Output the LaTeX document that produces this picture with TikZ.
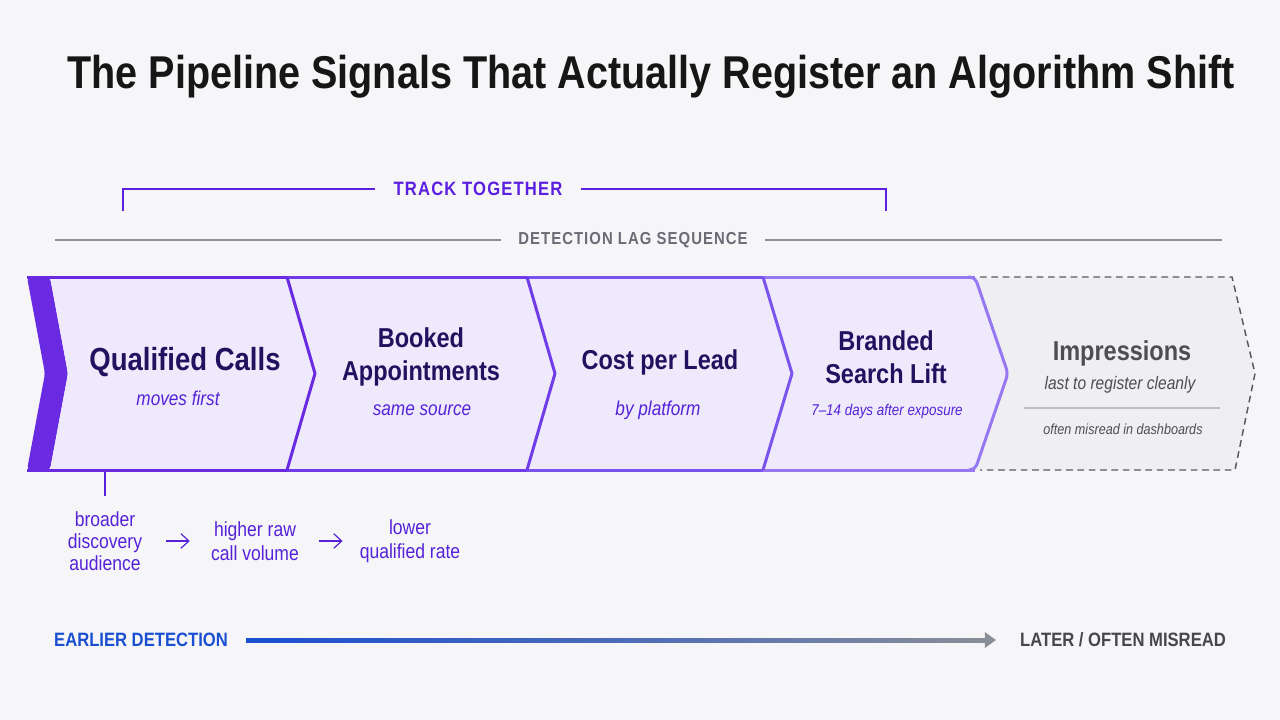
\documentclass[tikz,border=0pt]{standalone}
\usepackage{fontspec}
\setmainfont{Liberation Sans}[FakeStretch=0.86]
\usetikzlibrary{arrows.meta,positioning,calc}

\definecolor{bgcol}{HTML}{F6F6F9}
\definecolor{titlecol}{HTML}{161616}
\definecolor{violet}{HTML}{5B1FE0}
\definecolor{navy}{HTML}{22115E}
\definecolor{subpurple}{HTML}{5522D8}
\definecolor{segfill}{HTML}{EEEAFC}
\definecolor{edgeA}{HTML}{6A2AE2}
\definecolor{edgeB}{HTML}{6F3CE8}
\definecolor{edgeC}{HTML}{7B54EE}
\definecolor{edgeD}{HTML}{9877F3}
\definecolor{lagcol}{HTML}{6B6B76}
\definecolor{lagline}{HTML}{8E8E98}
\definecolor{impfill}{HTML}{EFEFF1}
\definecolor{impdash}{HTML}{5A5A5E}
\definecolor{imptext}{HTML}{4E4E52}
\definecolor{earlyblue}{HTML}{1A4FD2}
\definecolor{latergray}{HTML}{474749}
\definecolor{arrowgray}{HTML}{8A8E98}

\begin{document}
\begin{tikzpicture}[x=0.75pt, y=-0.75pt,
    title/.style={font=\fontsize{34.5}{40}\selectfont\bfseries, text=titlecol},
    caps/.style={font=\fontsize{14.5}{17}\selectfont\bfseries\addfontfeature{LetterSpace=6}},
    stagebig/.style={font=\fontsize{24}{28}\selectfont\bfseries, text=navy, align=center},
    stage/.style={font=\fontsize{20.5}{24.5}\selectfont\bfseries, text=navy, align=center},
    stagesub/.style={font=\fontsize{15}{18}\selectfont\itshape, text=subpurple},
    note/.style={font=\fontsize{15.3}{16.5}\selectfont, text=subpurple, align=center},
    edge/.style={line width=2.25pt, line join=round},
    bracket/.style={violet, line width=1.5pt},
    lagrule/.style={lagline, line width=1.1pt},
    flow/.style={-{Straight Barb[length=6pt,width=11pt]}, subpurple, line width=0.9pt}
]
\useasboundingbox (0,0) rectangle (1280,720);
\fill[bgcol] (0,0) rectangle (1280,720);

% title
\node[title] (head) at (651,77) {The Pipeline Signals That Actually Register an Algorithm Shift};

% track together bracket
\node[caps, text=violet, inner xsep=14pt] (track) at (478,189) {TRACK TOGETHER};
\coordinate (brL) at (123,211);
\coordinate (brR) at (886,211);
\draw[bracket] (track.west) -| (brL);
\draw[bracket] (track.east) -| (brR);

% detection lag rule
\node[caps, text=lagcol, font=\fontsize{13}{16}\selectfont\bfseries\addfontfeature{LetterSpace=6}, inner xsep=13pt] (lag) at (633,240) {DETECTION LAG SEQUENCE};
\coordinate (lagL) at (55,240);
\coordinate (lagR) at (1222,240);
\draw[lagrule] (lagL) -- (lag.west);
\draw[lagrule] (lag.east) -- (lagR);

% chevron band
\fill[edgeA, rounded corners=3pt] (27,277) -- (50,277) -- (68,373.5) -- (50,470) -- (27,470) -- (45,373.5) -- cycle;
\fill[segfill] (50,277) -- (287,277) -- (315,373.5) -- (287,470) -- (50,470) -- (68,373.5) -- cycle;
\fill[segfill] (287,277) -- (527,277) -- (555,373.5) -- (527,470) -- (287,470) -- (315,373.5) -- cycle;
\fill[segfill] (527,277) -- (763,277) -- (792,373.5) -- (763,470) -- (527,470) -- (555,373.5) -- cycle;
\fill[segfill] (763,277) -- (975,277) -- (1008,373.5) -- (975,470) -- (763,470) -- (792,373.5) -- cycle;
\fill[impfill] (975,277) -- (1232,277) -- (1255,373.5) -- (1235,470) -- (975,470) -- (1008,373.5) -- cycle;
\draw[impdash, line width=1.1pt, dash pattern=on 5pt off 3.5pt] (980,277) -- (1232,277) -- (1255,373.5) -- (1235,470) -- (980,470);

\draw[edge, edgeA] (27,277) -- (287,277);
\draw[edge, edgeA] (27,470) -- (287,470);
\draw[edge, edgeB] (287,277) -- (527,277);
\draw[edge, edgeB] (287,470) -- (527,470);
\draw[edge, edgeC] (527,277) -- (763,277);
\draw[edge, edgeC] (527,470) -- (763,470);
\draw[edge, edgeD] (763,277) -- (975,277);
\draw[edge, edgeD] (763,470) -- (975,470);
\draw[edge, edgeA] (287,277) -- (315,373.5) -- (287,470);
\draw[edge, edgeB] (527,277) -- (555,373.5) -- (527,470);
\draw[edge, edgeC] (763,277) -- (792,373.5) -- (763,470);
\draw[edge, edgeD, rounded corners=4pt] (968,277) -- (975,277) -- (1008,373.5) -- (975,470) -- (968,470);

% stage labels
\node[stagebig] (calls) at (185,362) {Qualified Calls};
\node[stagesub] (callsSub) at (178,398) {moves first};
\node[stage] (booked) at (421,357) {Booked\\Appointments};
\node[stagesub] (bookedSub) at (422,410) {same source};
\node[stage] (cpl) at (660,362) {Cost per Lead};
\node[stagesub] (cplSub) at (658,410) {by platform};
\node[stage] (branded) at (886,357) {Branded\\Search Lift};
\node[stagesub, font=\fontsize{11.7}{14}\selectfont\itshape] (brandedSub) at (887,411) {7–14 days after exposure};
\node[stage, text=imptext] (imp) at (1122,353) {Impressions};
\node[stagesub, text=imptext, font=\fontsize{13.6}{16}\selectfont\itshape] (impSub) at (1120,385) {last to register cleanly};
\coordinate (impRuleL) at (1024,408);
\coordinate (impRuleR) at (1220,408);
\draw[black!25, line width=0.8pt] (impRuleL) -- (impRuleR);
\node[stagesub, text=imptext, font=\fontsize{11}{13}\selectfont\itshape] (impNote) at (1123,429) {often misread in dashboards};

% qualified calls breakdown
\node[note] (broader) at (105,541) {broader\\discovery\\audience};
\node[note, font=\fontsize{15.3}{18}\selectfont] (rawvol) at (255,541) {higher raw\\call volume};
\node[note, font=\fontsize{15.3}{18}\selectfont] (lower) at (410,541) {lower\\qualified rate};
\coordinate (tickTop) at (105,472);
\draw[subpurple, line width=1.1pt] (tickTop) -- (105,496);
\draw[flow] (broader.east) ++(19,0) -- ++(24,0);
\draw[flow] (rawvol.east) ++(15,0) -- ++(24,0);

% detection axis
\node[font=\fontsize{14.5}{17}\selectfont\bfseries, text=earlyblue, inner sep=0pt] (early) at (141,640) {EARLIER DETECTION};
\node[font=\fontsize{14.5}{17}\selectfont\bfseries, text=latergray, inner sep=0pt] (late) at (1123,640) {LATER / OFTEN MISREAD};
\shade[left color=earlyblue, right color=arrowgray, middle color=earlyblue!55!arrowgray]
  ($(early.east)+(18,-2)$) rectangle ($(late.west)+(-33,2)$);
\fill[arrowgray] ($(late.west)+(-35,-8)$) -- ($(late.west)+(-24,0)$) -- ($(late.west)+(-35,8)$) -- cycle;

\end{tikzpicture}
\end{document}
